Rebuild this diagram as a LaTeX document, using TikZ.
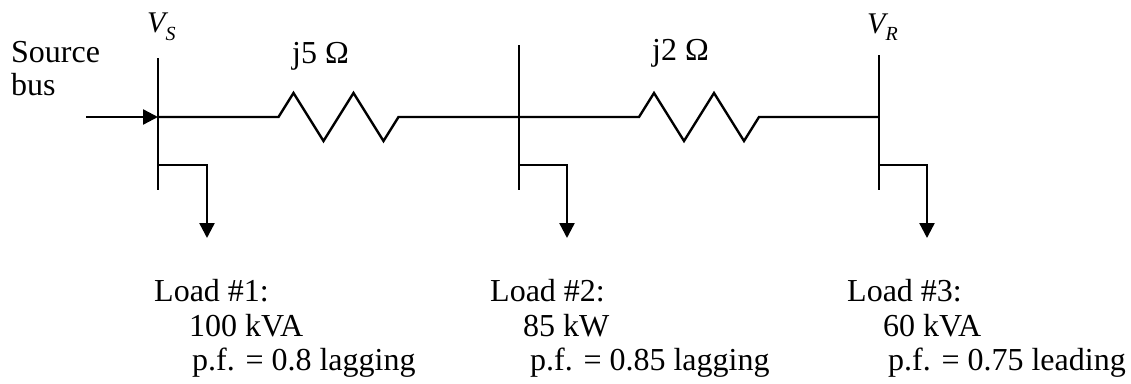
\documentclass[tikz,border=0pt]{standalone}
\usepackage{fontspec}
\setmainfont{Liberation Serif}
\usetikzlibrary{arrows.meta}
\begin{document}
\begin{tikzpicture}[x=1pt,y=-1pt,
  wire/.style={line width=2.4pt},
  tiparrow/.style={wire,-{Triangle[length=15pt,width=15pt]}},
  lbl/.style={anchor=base west, inner sep=0pt, font=\fontsize{32}{36}\selectfont},
  vlbl/.style={anchor=base west, inner sep=0pt, font=\fontsize{30}{32}\selectfont\itshape}]
\useasboundingbox (0,0) rectangle (1131,383);
% buses
\coordinate (b1top) at (158,58);  \coordinate (b1bot) at (158,190);
\coordinate (b2top) at (519,45);  \coordinate (b2bot) at (519,190);
\coordinate (b3top) at (879,55);  \coordinate (b3bot) at (879,190);
\coordinate (b1m) at (158,117); \coordinate (b2m) at (519,117); \coordinate (b3m) at (879,117);
\coordinate (b1t) at (158,165); \coordinate (b2t) at (519,165); \coordinate (b3t) at (879,165);
\coordinate (src) at (86,117);
\coordinate (r1a) at (278.5,117); \coordinate (r1b) at (398.5,117);
\coordinate (r2a) at (639,117);   \coordinate (r2b) at (759,117);
\coordinate (l1c) at (207,165); \coordinate (l2c) at (567,165); \coordinate (l3c) at (927,165);
\coordinate (l1e) at (207,238); \coordinate (l2e) at (567,238); \coordinate (l3e) at (927,238);
\draw[wire] (b1top) -- (b1bot);
\draw[wire] (b2top) -- (b2bot);
\draw[wire] (b3top) -- (b3bot);
\draw[tiparrow] (src) -- (b1m);
% line with resistors
\draw[wire] (b1m) -- (r1a) -- ++(15,-24) -- ++(30,48) -- ++(30,-48) -- ++(30,48) -- (r1b) -- (b2m);
\draw[wire] (b2m) -- (r2a) -- ++(15,-24) -- ++(30,48) -- ++(30,-48) -- ++(30,48) -- (r2b) -- (b3m);
% loads
\draw[tiparrow] (b1t) -- (l1c) -- (l1e);
\draw[tiparrow] (b2t) -- (l2c) -- (l2e);
\draw[tiparrow] (b3t) -- (l3c) -- (l3e);
% labels
\node[lbl] (srcA) at (11,62) {Source};
\node[lbl] (srcB) at (11,95) {bus};
\node[vlbl] (vs) at (147,32) {V\raisebox{-8pt}{\fontsize{20}{20}\selectfont S}};
\node[vlbl] (vr) at (867,33) {V\raisebox{-7pt}{\fontsize{20}{20}\selectfont R}};
\node[lbl] (z1) at (292,63) {j5 Ω};
\node[lbl] (z2) at (652,60) {j2 Ω};
\node[lbl] (L1a) at (154,301) {Load \#1:};
\node[lbl] (L1b) at (189,336) {100 kVA};
\node[lbl] (L1c) at (192,370) {p.f. = 0.8 lagging};
\node[lbl] (L2a) at (490,301) {Load \#2:};
\node[lbl] (L2b) at (523,336) {85 kW};
\node[lbl] (L2c) at (530,370) {p.f. = 0.85 lagging};
\node[lbl] (L3a) at (847,301) {Load \#3:};
\node[lbl] (L3b) at (883,336) {60 kVA};
\node[lbl] (L3c) at (888,370) {p.f. = 0.75 leading};
\end{tikzpicture}
\end{document}
